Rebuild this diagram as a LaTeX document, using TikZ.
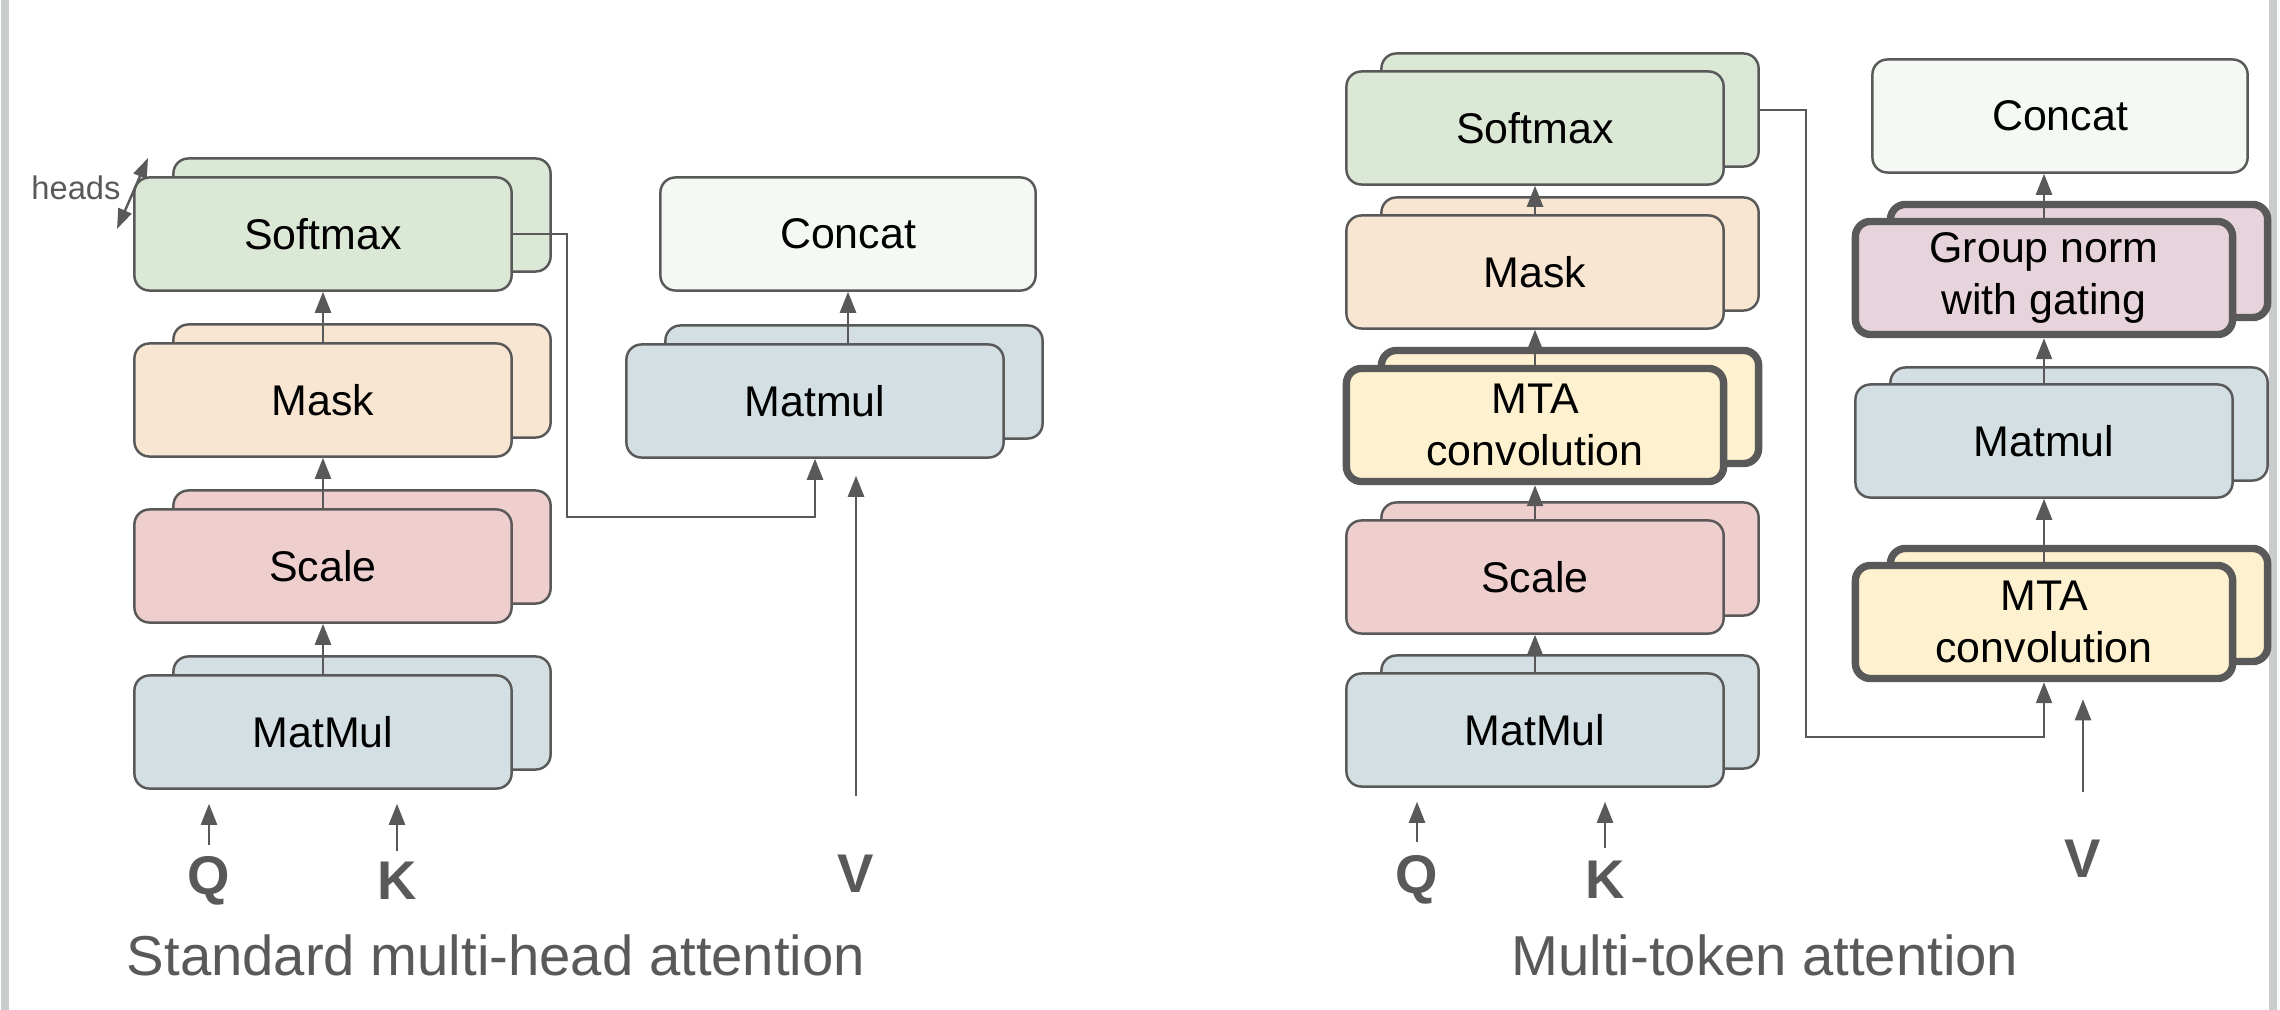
\documentclass[tikz,border=0pt]{standalone}
\usepackage{fontspec}
\setmainfont{Liberation Sans}
\usetikzlibrary{arrows.meta}
\definecolor{edgegray}{HTML}{595959}
\definecolor{framegray}{HTML}{C9CCCC}
\definecolor{smaxfill}{HTML}{DBE8D5}
\definecolor{maskfill}{HTML}{F9E6D2}
\definecolor{scalefill}{HTML}{EFCECE}
\definecolor{mulfill}{HTML}{D3DFE3}
\definecolor{convfill}{HTML}{FDF1D0}
\definecolor{normfill}{HTML}{E6D3DC}
\definecolor{catfill}{HTML}{F4F9F4}
\begin{document}
\begin{tikzpicture}[x=0.01cm, y=-0.01cm,
  box/.style={draw=edgegray, line width=0.7pt, rounded corners=0.15cm, minimum width=3.77cm, minimum height=1.13cm, inner sep=0pt, align=center, font=\fontsize{12.2}{15}\selectfont},
  heavy/.style={box, line width=2.1pt},
  flow/.style={draw=edgegray, line width=0.7pt, -{Triangle[length=0.21cm,width=0.16cm]}},
  input/.style={text=edgegray, inner sep=2pt, font=\fontsize{15.5}{18}\selectfont\bfseries},
  caption/.style={text=edgegray, font=\fontsize{16}{19}\selectfont}]
\useasboundingbox (0,0) rectangle (2280,1010);
\draw[framegray, line width=2.5pt] (5,0) -- (5,1010);
\draw[framegray, line width=2.5pt] (2273,0) -- (2273,1010);

% standard multi-head attention
\node[box, fill=smaxfill] (smaxb) at (362,215) {};
\node[box, fill=smaxfill] (smax) at (323,234) {Softmax};
\node[box, fill=maskfill] (maskb) at (362,381) {};
\node[box, fill=maskfill] (mask) at (323,400) {Mask};
\node[box, fill=scalefill] (scaleb) at (362,547) {};
\node[box, fill=scalefill] (scale) at (323,566) {Scale};
\node[box, fill=mulfill] (mmb) at (362,713) {};
\node[box, fill=mulfill] (mm) at (323,732) {MatMul};
\node[box, fill=catfill, minimum width=3.75cm] (concat) at (848,234) {Concat};
\node[box, fill=mulfill] (matmulb) at (854,382) {};
\node[box, fill=mulfill] (matmul) at (815,401) {Matmul};

\node[text=edgegray, font=\fontsize{9.3}{11}\selectfont] (heads) at (76,188) {heads};
\coordinate (hd1) at (117,229);
\coordinate (hd2) at (148,158);
\draw[draw=edgegray, line width=0.7pt, {Triangle[length=0.2cm,width=0.14cm]}-{Triangle[length=0.2cm,width=0.14cm]}] (hd1) -- (hd2);

\node[input] (q) at (209,881) {Q};
\node[input] (k) at (397,881) {K};
\node[input] (v) at (856,874) {V};

\draw[flow] (mm.north) -- (scale.south);
\draw[flow] (scale.north) -- (mask.south);
\draw[flow] (mask.north) -- (smax.south);
\draw[flow] (concat.south |- matmul.north) -- (concat.south);
\coordinate (turn) at (567,517);
\draw[flow] (smax.east) -| (turn) -| (matmul.south);
\draw[flow, shorten <=0.04cm, shorten >=0.14cm] (q.north) -- (q.north |- mm.south);
\draw[flow, shorten <=0.04cm, shorten >=0.14cm] (k.north) -- (k.north |- mm.south);
\draw[flow, shorten <=0.51cm, shorten >=0.17cm] (v.north) -- (v.north |- matmul.south);

\node[caption] (title) at (496,955) {Standard multi-head attention};

% multi-token attention
\node[box, fill=smaxfill] (smax2b) at (1570,110) {};
\node[box, fill=smaxfill] (smax2) at (1535,128) {Softmax};
\node[box, fill=maskfill] (mask2b) at (1570,254) {};
\node[box, fill=maskfill] (mask2) at (1535,272) {Mask};
\node[heavy, fill=convfill] (conv1b) at (1570,407) {};
\node[heavy, fill=convfill] (conv1) at (1535,425) {MTA\\convolution};
\node[box, fill=scalefill] (scale2b) at (1570,559) {};
\node[box, fill=scalefill] (scale2) at (1535,577) {Scale};
\node[box, fill=mulfill] (mm2b) at (1570,712) {};
\node[box, fill=mulfill] (mm2) at (1535,730) {MatMul};

\node[box, fill=catfill, minimum width=3.75cm] (concat2) at (2060,116) {Concat};
\node[heavy, fill=normfill] (gnb) at (2079,261) {};
\node[heavy, fill=normfill] (gn) at (2044,278) {Group norm\\with gating};
\node[box, fill=mulfill] (matmul2b) at (2079,424) {};
\node[box, fill=mulfill] (matmul2) at (2044,441) {Matmul};
\node[heavy, fill=convfill] (conv2b) at (2079,605) {};
\node[heavy, fill=convfill] (conv2) at (2044,622) {MTA\\convolution};

\node[input] (q2) at (1417,880) {Q};
\node[input] (k2) at (1605,880) {K};
\node[input] (v2) at (2083,859) {V};

\draw[flow] (mm2.north) -- (scale2.south);
\draw[flow] (scale2.north) -- (conv1.south);
\draw[flow] (conv1.north) -- (mask2.south);
\draw[flow] (mask2.north) -- (smax2.south);
\draw[flow] (conv2.north) -- (matmul2.south);
\draw[flow] (matmul2.north) -- (gn.south);
\draw[flow] (gn.north) -- (concat2.south -| gn.north);
\coordinate (turn2) at (1806,737);
\draw[flow] (smax2b.east) -| (turn2) -| (conv2.south);
\draw[flow, shorten <=0.06cm, shorten >=0.14cm] (q2.north) -- (q2.north |- mm2.south);
\draw[flow, shorten <=0.06cm, shorten >=0.14cm] (k2.north) -- (k2.north |- mm2.south);
\draw[flow, shorten <=0.40cm, shorten >=0.17cm] (v2.north) -- (v2.north |- conv2.south);

\node[caption] (title2) at (1765,955) {Multi-token attention};
\end{tikzpicture}
\end{document}
